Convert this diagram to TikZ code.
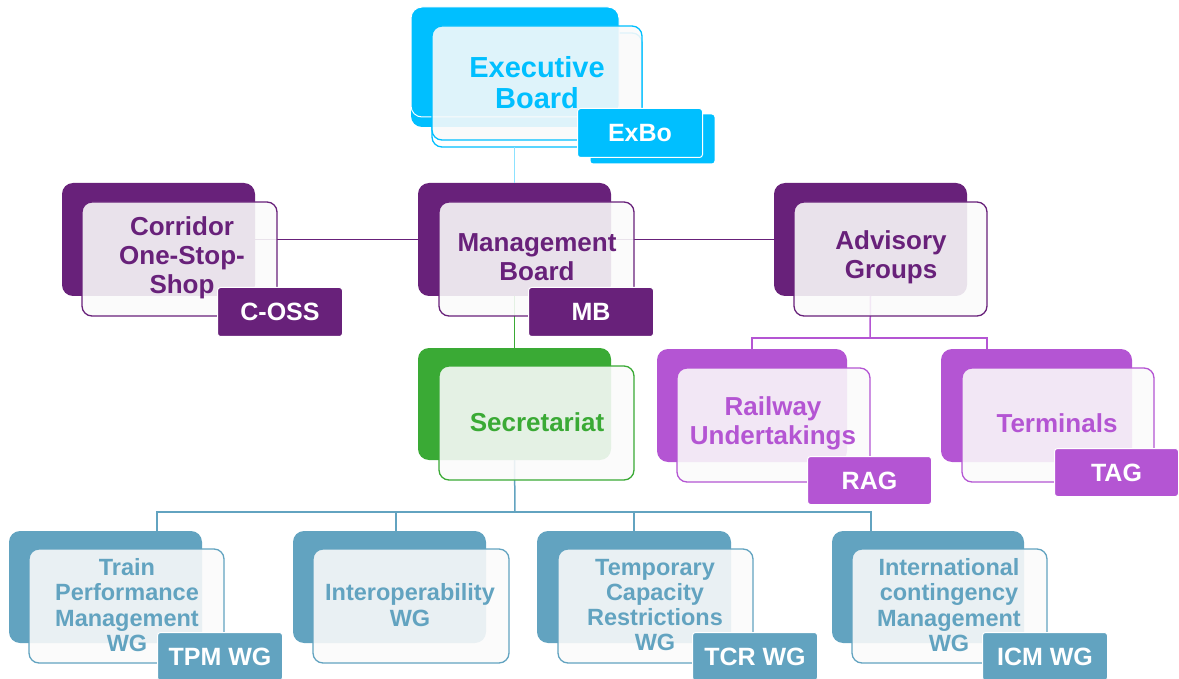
\documentclass[tikz,border=0pt]{standalone}
\usepackage{fontspec}
\setmainfont{Liberation Sans}
\definecolor{cyanC}{RGB}{0,191,255}
\definecolor{purpleC}{RGB}{104,33,122}
\definecolor{greenC}{RGB}{58,170,53}
\definecolor{lilacC}{RGB}{180,85,211}
\definecolor{steelC}{RGB}{98,163,192}
\begin{document}
\begin{tikzpicture}[x=1pt,y=-1pt,
 backbox/.style={fill=#1, draw=none, rounded corners=11pt, anchor=north west, minimum width=193pt, minimum height=113pt, inner sep=0pt, outer sep=0pt},
 frontbox/.style={fill=white!98!black, fill opacity=0.89, draw=#1, line width=1.3pt, rounded corners=10pt, anchor=north west, minimum width=195pt, minimum height=114pt, inner sep=0pt, outer sep=0pt},
 tabbox/.style={fill=#1, draw=white, line width=1pt, rounded corners=3pt, anchor=north west, minimum width=125pt, minimum height=49pt, text=white, font=\bfseries\fontsize{25}{28}\selectfont, inner sep=0pt},
 lbl/.style={text=#1, font=\bfseries\fontsize{26}{29}\selectfont, align=center, inner sep=0pt},
 slbl/.style={text=#1, font=\bfseries\fontsize{23.5}{25.3}\selectfont, align=center, inner sep=0pt},
 conn/.style={draw=#1, line width=1.5pt}]
\useasboundingbox (0,0) rectangle (1179,679);

% ---------- lower layer of the ExBo stack ----------
\node[frontbox=cyanC, fill opacity=1, fill=white, minimum width=210pt] (exboF2) at (432,33) {};

% ---------- back boxes ----------
\node[backbox=cyanC, minimum width=208pt, minimum height=117pt] (exboB2) at (411,10) {};
\node[backbox=cyanC, draw=white, line width=1pt, minimum width=208pt, minimum height=110pt] (exboB) at (411,7) {};
\node[backbox=purpleC] (cossB) at (62,183) {};
\node[backbox=purpleC] (mbB) at (418,183) {};
\node[backbox=purpleC] (advB) at (774,183) {};
\node[backbox=greenC, minimum height=112pt] (secB) at (418,348) {};
\node[backbox=lilacC, minimum width=190pt] (ragB) at (657,349) {};
\node[backbox=lilacC, minimum width=191pt] (tagB) at (941,349) {};
\node[backbox=steelC, minimum height=112pt] (tpmB) at (9,531) {};
\node[backbox=steelC, minimum height=112pt] (iopB) at (293,531) {};
\node[backbox=steelC, minimum height=112pt, minimum width=194pt] (tcrB) at (537,531) {};
\node[backbox=steelC, minimum height=112pt, minimum width=192pt] (icmB) at (832,531) {};

% ---------- connectors ----------
\coordinate (advbus) at (870,338);
\coordinate (tagIn) at (987,349);
\coordinate (secbus) at (515,512);
\coordinate (tpmIn) at (157,531);
\coordinate (iopIn) at (396,531);
\coordinate (tcrIn) at (634,531);
\coordinate (icmIn) at (871,531);
\draw[conn=cyanC!45] (mbB.north |- exboF2.south) -- (mbB.north);
\draw[conn=purpleC] (cossB.east) -- (mbB.west);
\draw[conn=purpleC] (mbB.east) -- (advB.west);
\draw[conn=greenC] (mbB.south) -- (secB.north);
\draw[conn=lilacC] (advB.south) -- (advbus);
\draw[conn=lilacC] (ragB.north) |- (advbus) -| (tagIn);
\draw[conn=steelC] (secB.south) -- (secbus);
\draw[conn=steelC] (tpmIn) |- (secbus) -| (icmIn);
\draw[conn=steelC] (iopIn |- secbus) -- (iopIn);
\draw[conn=steelC] (tcrIn |- secbus) -- (tcrIn);

% ---------- front boxes ----------
\node[frontbox=cyanC, minimum width=210pt] (exboF) at (432,26) {};
\node[frontbox=purpleC] (cossF) at (82,202) {};
\node[frontbox=purpleC] (mbF) at (439,202) {};
\node[frontbox=purpleC, minimum width=193pt] (advF) at (794,202) {};
\node[frontbox=greenC] (secF) at (439,366) {};
\node[frontbox=lilacC, minimum width=193pt] (ragF) at (677,368) {};
\node[frontbox=lilacC, minimum width=192pt] (tagF) at (962,368) {};
\node[frontbox=steelC] (tpmF) at (29,549) {};
\node[frontbox=steelC, minimum width=196pt] (iopF) at (313,549) {};
\node[frontbox=steelC] (tcrF) at (558,549) {};
\node[frontbox=steelC] (icmF) at (852,549) {};

% ---------- labels ----------
\node[lbl=cyanC, font=\bfseries\fontsize{29}{31}\selectfont] (exboT) at (537,83) {Executive\\Board};
\node[lbl=purpleC] (cossT) at (182,258) {Corridor\\One-Stop-\\Shop};
\node[lbl=purpleC] (mbT) at (537,257) {Management\\Board};
\node[lbl=purpleC] (advT) at (891,257) {Advisory\\Groups};
\node[lbl=greenC] (secT) at (537,422) {Secretariat};
\node[lbl=lilacC] (ragT) at (773,423) {Railway\\Undertakings};
\node[lbl=lilacC] (tagT) at (1057,423) {Terminals};
\node[slbl=steelC] (tpmT) at (127,605) {Train\\Performance\\Management\\WG};
\node[slbl=steelC] (iopT) at (410,605) {Interoperability\\WG};
\node[slbl=steelC] (tcrT) at (655,605) {Temporary\\Capacity\\Restrictions\\WG};
\node[slbl=steelC] (icmT) at (949,605) {International\\contingency\\Management\\WG};

% ---------- tabs ----------
\node[tabbox=cyanC, draw=none, minimum width=124pt] (exboTab2) at (590,114) {};
\node[tabbox=cyanC] (exboTab) at (577,108) {ExBo};
\node[tabbox=purpleC] (cossTab) at (217,287) {C-OSS};
\node[tabbox=purpleC] (mbTab) at (528,287) {MB};
\node[tabbox=lilacC, minimum width=124pt, minimum height=48pt] (ragTab) at (807,456) {RAG};
\node[tabbox=lilacC, minimum width=124pt, minimum height=48pt] (tagTab) at (1054,448) {TAG};
\node[tabbox=steelC, minimum height=48pt] (tpmTab) at (157,632) {TPM WG};
\node[tabbox=steelC, minimum height=48pt] (tcrTab) at (692,632) {TCR WG};
\node[tabbox=steelC, minimum height=48pt] (icmTab) at (982,632) {ICM WG};
\end{tikzpicture}
\end{document}
